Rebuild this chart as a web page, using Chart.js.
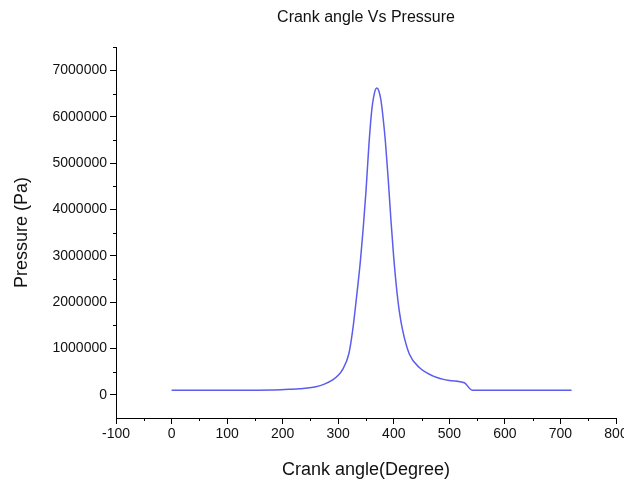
<!DOCTYPE html>
<html>
<head>
<meta charset="utf-8">
<script src="https://cdn.jsdelivr.net/npm/chart.js@4"></script>
<style>
    html, body { margin: 0; padding: 0; background: #fff; overflow: hidden; }
    #wrap { position: absolute; left: 0; top: 0; width: 640px; height: 482px; }
</style>
</head>
<body>
<div id="wrap"><canvas id="pvChart" width="640" height="482"></canvas></div>
<script>
// Crank angle (degree) and cylinder pressure (Pa)
const crankAngles = [0, 120, 180, 212, 230, 260, 275, 290, 300, 308, 319, 326, 333, 340, 345, 350, 355, 360, 365, 369.5, 373, 377, 381, 385, 390, 395, 400, 405, 410, 416, 428, 446, 470, 500, 527, 541, 600, 720];
const pressures = [100000, 100000, 105000, 120000, 130000, 175000, 230000, 320000, 420000, 550000, 880000, 1390000, 2110000, 2900000, 3600000, 4400000, 5350000, 6100000, 6500000, 6620000, 6560000, 6350000, 5950000, 5450000, 4650000, 3750000, 2950000, 2300000, 1800000, 1390000, 880000, 590000, 410000, 310000, 260000, 100000, 100000, 100000];

const xTicks = [-100, 0, 100, 200, 300, 400, 500, 600, 700, 800];
const yTicks = [0, 1000000, 2000000, 3000000, 4000000, 5000000, 6000000, 7000000];

const lineColor = 'rgb(92, 92, 238)';
const fontFamily = '"Liberation Sans", Arial, sans-serif';

// Minor tick marks (half steps) drawn on both axes
const minorTicks = {
    id: 'minorTicks',
    afterDraw(chart) {
        const ctx = chart.ctx;
        const xs = chart.scales.x;
        const ys = chart.scales.y;
        const area = chart.chartArea;
        ctx.save();
        ctx.strokeStyle = '#000';
        ctx.lineWidth = 1;
        ctx.beginPath();
        for (let i = 0; i < xTicks.length - 1; i++) {
            const px = Math.round(xs.getPixelForValue((xTicks[i] + xTicks[i + 1]) / 2)) + 0.5;
            ctx.moveTo(px, area.bottom);
            ctx.lineTo(px, area.bottom + 3);
        }
        const yMinor = [];
        for (let i = 0; i < yTicks.length - 1; i++) yMinor.push((yTicks[i] + yTicks[i + 1]) / 2);
        yMinor.push(7500000);
        yMinor.forEach(v => {
            const py = Math.round(ys.getPixelForValue(v)) + 0.5;
            ctx.moveTo(area.left, py);
            ctx.lineTo(area.left - 3, py);
        });
        ctx.stroke();
        ctx.restore();
    }
};

const ctx = document.getElementById('pvChart');
new Chart(ctx, {
    type: 'line',
    data: {
        datasets: [{
            label: 'Pressure',
            data: crankAngles.map((a, i) => ({ x: a, y: pressures[i] })),
            borderColor: lineColor,
            borderWidth: 1.5,
            pointRadius: 0,
            cubicInterpolationMode: 'monotone',
            fill: false
        }]
    },
    options: {
        responsive: false,
        animation: false,
        layout: { padding: { left: 0, right: 24, top: 0, bottom: 0 } },
        plugins: {
            legend: { display: false },
            tooltip: { enabled: false },
            title: {
                display: true,
                fullSize: false,
                text: 'Crank angle Vs Pressure',
                color: '#111',
                font: { family: fontFamily, size: 16, weight: 'normal' },
                padding: { top: 8, bottom: 20 }
            }
        },
        scales: {
            x: {
                type: 'linear',
                min: -100,
                max: 800,
                afterBuildTicks: (scale) => { scale.ticks = xTicks.map(v => ({ value: v })); },
                afterFit: (scale) => { scale.height = 64; },
                border: { display: true, color: '#000', width: 1 },
                grid: { display: true, drawOnChartArea: false, drawTicks: true, tickLength: 6, color: '#000' },
                ticks: { color: '#111', font: { family: fontFamily, size: 14 }, padding: 2, maxRotation: 0, callback: (v) => String(v) },
                title: {
                    display: true,
                    text: 'Crank angle(Degree)',
                    color: '#111',
                    font: { family: fontFamily, size: 18 },
                    padding: { top: 4, bottom: 1 }
                }
            },
            y: {
                min: -500000,
                max: 7500000,
                afterBuildTicks: (scale) => { scale.ticks = yTicks.map(v => ({ value: v })); },
                afterFit: (scale) => { scale.width = 116; },
                border: { display: true, color: '#000', width: 1 },
                grid: { display: true, drawOnChartArea: false, drawTicks: true, tickLength: 6, color: '#000' },
                ticks: { color: '#111', font: { family: fontFamily, size: 14 }, padding: 3, callback: (v) => String(v) },
                title: {
                    display: true,
                    text: 'Pressure (Pa)',
                    color: '#111',
                    font: { family: fontFamily, size: 18 },
                    padding: { top: 11, bottom: 1 }
                }
            }
        }
    },
    plugins: [minorTicks]
});
</script>
</body>
</html>
